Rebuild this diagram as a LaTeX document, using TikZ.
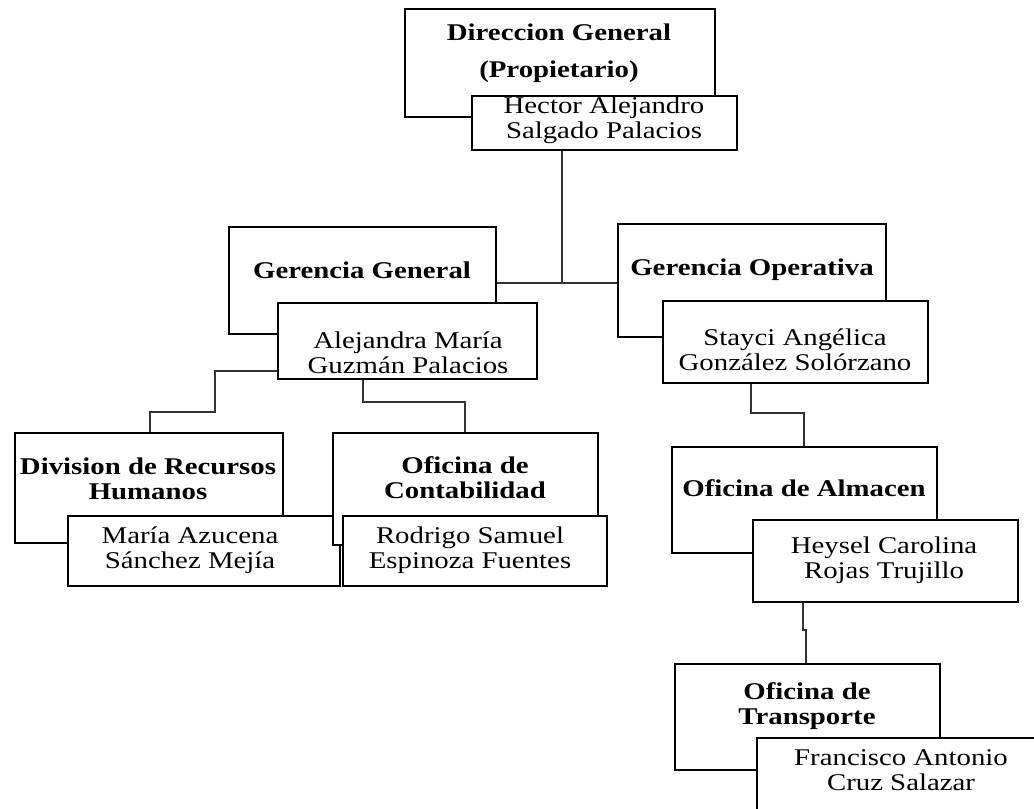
\documentclass[tikz,border=0pt]{standalone}
\usepackage{fontspec}
\setmainfont{Liberation Serif}[FakeStretch=1.2]
\usetikzlibrary{fit}
\begin{document}
\begin{tikzpicture}[x=0.75pt,y=-0.75pt,
  box/.style={draw=black,line width=2.1pt,fill=white,inner sep=0pt,rectangle},
  conn/.style={draw=black!80,line width=2.2pt},
  ttl/.style={font=\fontsize{18}{18.75}\selectfont\bfseries,align=center,inner sep=0pt},
  nm/.style={font=\fontsize{18}{18.75}\selectfont,align=center,inner sep=0pt}]
\useasboundingbox (0,0) rectangle (1034,809);
\clip (0,0) rectangle (1034,809);
% title boxes and name boxes
\node[box,fit={(405,9) (715,117)}] (dg) {};
\node[ttl] (dgt) at (559,53.5) {Direccion General\\[9pt](Propietario)};
\node[box,fit={(472,96) (737,150)}] (hs) {};
\node[nm] (hst) at (604,120) {Hector Alejandro\\Salgado Palacios};

\node[box,fit={(229,227) (496,334)}] (gg) {};
\node[ttl] (ggt) at (362,270) {Gerencia General};
\node[box,fit={(278,303) (537,379)}] (ag) {};
\node[nm] (agt) at (408,353) {Alejandra María\\Guzmán Palacios};

\node[box,fit={(618,224) (886,337)}] (go) {};
\node[ttl] (got) at (752,270) {Gerencia Operativa};
\node[box,fit={(663,301) (928,383)}] (sa) {};
\node[nm] (sat) at (795,349.5) {Stayci Angélica\\González Solórzano};

\node[box,fit={(15,433) (283,543)}] (drh) {};
\node[ttl] (drht) at (148,478.5) {Division de Recursos\\Humanos};
\node[box,fit={(68,516) (340,586)}] (ma) {};
\node[nm] (mat) at (190,550) {María Azucena\\Sánchez Mejía};

\node[box,fit={(333,433) (598,545)}] (oc) {};
\node[ttl] (oct) at (465,477.5) {Oficina de\\Contabilidad};
\node[box,fit={(343,516) (607,586)}] (rs) {};
\node[nm] (rst) at (470,550) {Rodrigo Samuel\\Espinoza Fuentes};

\node[box,fit={(672,447) (937,553)}] (oa) {};
\node[ttl] (oat) at (804,488) {Oficina de Almacen};
\node[box,fit={(753,520) (1018,602)}] (hc) {};
\node[nm] (hct) at (884,560) {Heysel Carolina\\Rojas Trujillo};

\node[box,fit={(675,664) (940,770)}] (ot) {};
\node[ttl] (ott) at (807,706.5) {Oficina de\\Transporte};
\node[box,fit={(757,738) (1060,830)}] (fa) {};
\node[nm] (fat) at (901,770.5) {Francisco Antonio\\Cruz Salazar};

% connector coordinates
\coordinate (j1) at (562,283);
\coordinate (c1) at (215,371);
\coordinate (c2) at (215,412);
\coordinate (c3) at (150,412);
\coordinate (m1) at (363,402);
\coordinate (m2) at (465,402);
\coordinate (r1) at (751,413);
\coordinate (r2) at (804,413);
\coordinate (t1) at (803,630);
\coordinate (t2) at (806,630);

% connectors
\draw[conn] (hs.south -| j1) -- (j1);
\draw[conn] (gg.east |- j1) -- (go.west |- j1);
\draw[conn] (ag.west |- c1) -- (c1) -- (c2) -- (c3) -- (drh.north -| c3);
\draw[conn] (ag.south -| m1) -- (m1) -- (m2) -- (oc.north -| m2);
\draw[conn] (sa.south -| r1) -- (r1) -- (r2) -- (oa.north -| r2);
\draw[conn] (hc.south -| t1) -- (t1) -- (t2) -- (ot.north -| t2);
\end{tikzpicture}
\end{document}
